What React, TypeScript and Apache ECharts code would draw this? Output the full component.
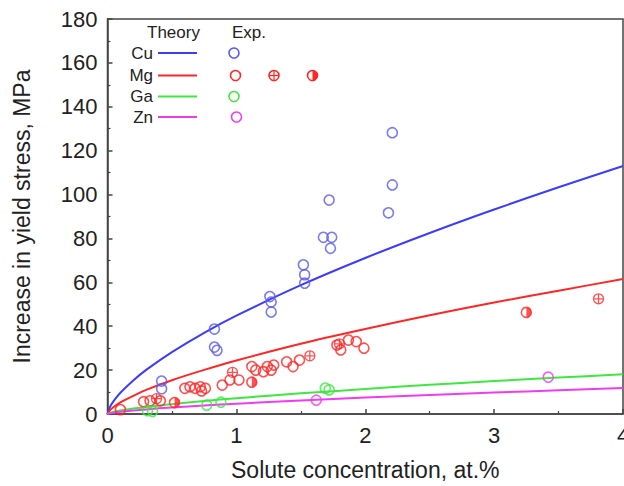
import React, { useEffect, useRef } from "react";
import * as echarts from "echarts";

// Theory curves
const theoryX = [0, 0.02, 0.05, 0.1, 0.2, 0.3, 0.5, 0.75, 1, 1.5, 2, 2.5, 3, 3.5, 4];
const cuTheory = [0, 3.3, 6.1, 9.7, 15.3, 20.1, 28.2, 37, 44.8, 58.7, 71.1, 82.5, 93.2, 103.3, 113];
const mgTheory = [0, 1.8, 3.3, 5.3, 8.3, 11, 15.4, 20.1, 24.4, 32, 38.7, 45, 50.8, 56.2, 61.5];
const gaTheory = [0, 0.5, 1.0, 1.6, 2.5, 3.2, 4.5, 5.9, 7.2, 9.4, 11.4, 13.3, 15, 16.6, 18.1];
const znTheory = [0, 0.3, 0.6, 1.0, 1.6, 2.1, 3.0, 3.9, 4.7, 6.2, 7.5, 8.7, 9.8, 10.8, 11.8];

// Experimental points [concentration, stress]
const cuExp = [
  [0.42, 15], [0.42, 11.5], [0.83, 38.7], [0.83, 30.5], [0.85, 29],
  [1.26, 53.5], [1.27, 51], [1.27, 46.5], [1.52, 68], [1.53, 63.5], [1.53, 59.6],
  [1.675, 80.5], [1.74, 80.5], [1.73, 75.5], [1.72, 97.5],
  [2.21, 128.2], [2.21, 104.4], [2.18, 91.7],
];
const mgExpOpen = [
  [0.1, 2], [0.28, 5.6], [0.33, 6], [0.41, 6], [0.6, 11.7], [0.64, 12.4], [0.68, 11.7],
  [0.72, 12.4], [0.76, 11.7], [0.73, 10.5], [0.89, 13.2], [0.95, 15.5], [1.02, 15.5],
  [1.12, 21.6], [1.15, 20], [1.21, 19.3], [1.24, 21.6], [1.27, 20], [1.29, 22.3],
  [1.39, 23.8], [1.44, 21.6], [1.49, 24.6], [1.78, 31.4], [1.81, 29.2], [1.87, 33.7],
  [1.93, 33], [1.99, 30],
];
const mgExpCross = [[0.38, 7], [0.97, 19], [1.57, 26.5], [1.8, 32], [3.81, 52.5]];
const mgExpHalf = [[0.52, 5.2], [1.12, 14.5], [3.25, 46.3]];
const gaExp = [[0.31, 1.5], [0.35, 1.2], [0.77, 4], [0.88, 5.4], [1.69, 11.8], [1.72, 11]];
const znExp = [[1.62, 6.3], [3.42, 16.8]];

const legendNames = ["Cu", "Mg", "Ga", "Zn"];

const BLUE = "#3c3cff";
const RED = "#ff2626";
const GREEN = "#3ee83e";
const MAG = "#f03cf0";
const BLUE_M = "#5a5aee";
const FONT = "'Liberation Sans', Arial, sans-serif";
const CROSS = "path://M10,5A5,5,0,1,1,0,5A5,5,0,1,1,10,5ZM0,5L10,5M5,0L5,10";
const HALF = "path://M0,0A5,5,0,0,1,0,10Z";

function pairs(xs: number[], ys: number[]) {
  return xs.map((x, i) => [x, ys[i]]);
}

export default function App() {
  const ref = useRef<HTMLDivElement>(null);
  useEffect(() => {
    if (!ref.current) return;
    const chart = echarts.init(ref.current, null, { renderer: "svg" });
    const lineS = (name: string, ys: number[], color: string) => ({
      name, type: "line", data: pairs(theoryX, ys), smooth: 0.3, showSymbol: false,
      lineStyle: { color, width: 2 }, z: 2,
    });
    const openS = (name: string, data: number[][], color: string) => ({
      name, type: "scatter", data, symbol: "circle", symbolSize: 10,
      itemStyle: { color: "rgba(0,0,0,0)", borderColor: color, borderWidth: 1.6 }, z: 3,
    });
    const rowY = [53, 75.5, 96.5, 117];
    const lineColors = [BLUE, RED, GREEN, MAG];
    const markColors = [BLUE_M, RED, GREEN, MAG];
    const markX = [234, 235.5, 234, 236.5];
    const graphic: any[] = [
      { type: "text", left: 147, top: 24, style: { text: "Theory", font: `17px ${FONT}`, fill: "#222" } },
      { type: "text", left: 232, top: 24, style: { text: "Exp.", font: `17px ${FONT}`, fill: "#222" } },
    ];
    legendNames.forEach((n, i) => {
      graphic.push({ type: "text", x: 153, y: rowY[i], style: { text: n, font: `17px ${FONT}`, fill: "#222", align: "right", verticalAlign: "middle" } });
      graphic.push({ type: "line", shape: { x1: 158, y1: rowY[i], x2: 197, y2: rowY[i] }, style: { stroke: lineColors[i], lineWidth: 2 } });
      graphic.push({ type: "circle", shape: { cx: markX[i], cy: rowY[i], r: 5 }, style: { fill: "none", stroke: markColors[i], lineWidth: 1.6 } });
    });
    graphic.push({ type: "circle", shape: { cx: 274, cy: rowY[1], r: 5 }, style: { fill: "none", stroke: RED, lineWidth: 1.6 } });
    graphic.push({ type: "line", shape: { x1: 269, y1: rowY[1], x2: 279, y2: rowY[1] }, style: { stroke: RED, lineWidth: 1.2 } });
    graphic.push({ type: "line", shape: { x1: 274, y1: rowY[1] - 5, x2: 274, y2: rowY[1] + 5 }, style: { stroke: RED, lineWidth: 1.2 } });
    graphic.push({ type: "circle", shape: { cx: 312.5, cy: rowY[1], r: 5 }, style: { fill: "none", stroke: RED, lineWidth: 1.6 } });
    graphic.push({ type: "sector", shape: { cx: 312.5, cy: rowY[1], r: 5, r0: 0, startAngle: -Math.PI / 2, endAngle: Math.PI / 2 }, style: { fill: RED } });

    chart.setOption({
      animation: false,
      backgroundColor: "#fff",
      grid: {
        left: 107.5, top: 19, right: 1, bottom: 72, show: true, borderColor: "#444", borderWidth: 1.5,
        backgroundColor: "transparent", outerBoundsMode: "none", containLabel: false,
      },
      xAxis: {
        type: "value", min: 0, max: 4, interval: 1,
        name: "Solute concentration, at.%", nameLocation: "middle", nameGap: 44,
        nameTextStyle: { fontFamily: FONT, fontSize: 23, color: "#222" },
        axisLine: { lineStyle: { color: "#444", width: 1.5 } },
        axisTick: { inside: true, length: 5, lineStyle: { color: "#444", width: 1.5 } },
        minorTick: { show: true, splitNumber: 2, length: 3, lineStyle: { color: "#444", width: 1.2 } },
        axisLabel: { fontFamily: FONT, fontSize: 22, color: "#222", margin: 10 },
        splitLine: { show: false },
      },
      yAxis: {
        type: "value", min: 0, max: 180, interval: 20,
        name: "Increase in yield stress, MPa", nameLocation: "middle", nameGap: 74,
        nameTextStyle: { fontFamily: FONT, fontSize: 23, color: "#222" },
        axisLine: { lineStyle: { color: "#444", width: 1.5 } },
        axisTick: { inside: true, length: 5, lineStyle: { color: "#444", width: 1.5 } },
        minorTick: { show: true, splitNumber: 2, length: 3, lineStyle: { color: "#444", width: 1.2 } },
        axisLabel: { fontFamily: FONT, fontSize: 22, color: "#222", margin: 10 },
        splitLine: { show: false },
      },
      graphic,
      series: [
        lineS("Cu theory", cuTheory, BLUE),
        lineS("Mg theory", mgTheory, RED),
        lineS("Ga theory", gaTheory, GREEN),
        lineS("Zn theory", znTheory, MAG),
        openS("Cu exp", cuExp, BLUE_M),
        openS("Mg exp", mgExpOpen, RED),
        openS("Mg half outline", mgExpHalf, RED),
        {
          name: "Mg half", type: "scatter", data: mgExpHalf, symbol: HALF, symbolSize: [5, 10],
          symbolOffset: [2.5, 0], itemStyle: { color: RED }, z: 4,
        },
        {
          name: "Mg cross", type: "scatter", data: mgExpCross, symbol: CROSS, symbolSize: 10,
          itemStyle: { color: "rgba(0,0,0,0)", borderColor: RED, borderWidth: 1.3 }, z: 3,
        },
        openS("Ga exp", gaExp, GREEN),
        openS("Zn exp", znExp, MAG),
      ],
    });
    return () => chart.dispose();
  }, []);
  return <div ref={ref} style={{ width: 624, height: 486, position: "absolute", left: 0, top: 0 }} />;
}
